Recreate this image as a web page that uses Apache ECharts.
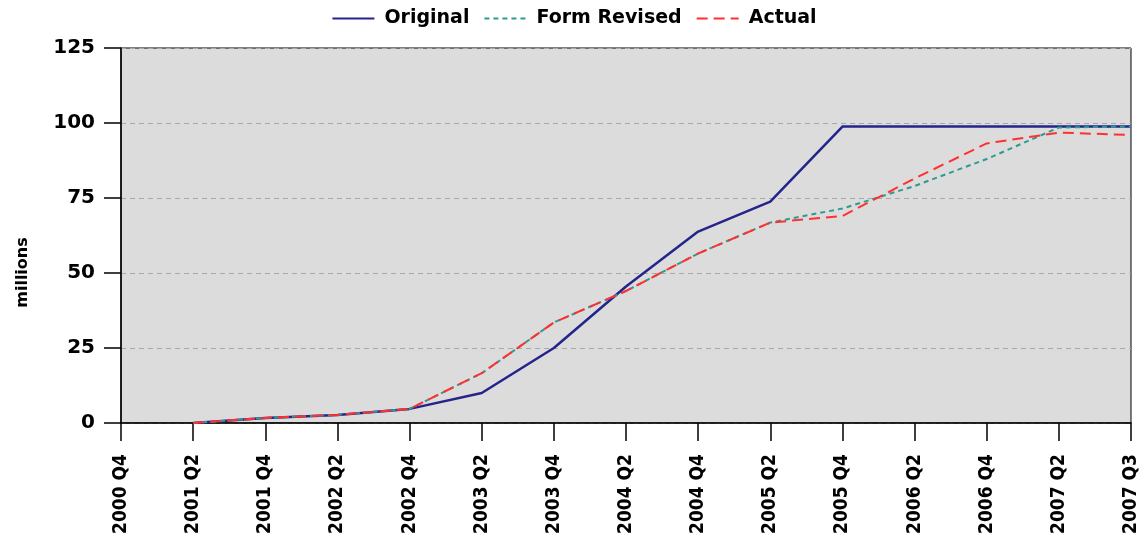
<!doctype html>
<html>

<head>
	<meta charset="utf-8">
	<title></title>
	<script type="text/javascript" src="https://cdn.jsdelivr.net/npm/echarts@6/dist/echarts.min.js"></script>
	<style>
		html, body { margin: 0; padding: 0; background: #fff; }
	</style>
</head>

<body>
	<div id="main" style="width: 1148px;height:548px;"></div>
	<script type="text/javascript">
		var quarters = ['2000 Q4', '2001 Q2', '2001 Q4', '2002 Q2', '2002 Q4', '2003 Q2', '2003 Q4', '2004 Q2',
			'2004 Q4', '2005 Q2', '2005 Q4', '2006 Q2', '2006 Q4', '2007 Q2', '2007 Q3'];
		var original = [null, 0, 1.7, 2.7, 4.7, 10, 25, 45.5, 63.8, 73.8, 98.8, 98.8, 98.8, 98.8, 98.8];
		var formRevised = [null, 0, 1.7, 2.7, 4.7, 16.6, 33.5, 44, 56.5, 66.8, 71.5, 79, 88, 98.5, 98.8];
		var actual = [null, 0, 1.7, 2.7, 4.7, 16.6, 33.5, 44, 56.5, 66.8, 69, 81.5, 93.2, 96.8, 96];

		var myChart = echarts.init(document.getElementById('main'));

		var option = {
			animation: false,
			legend: {
				top: 4,
				left: 'center',
				itemWidth: 42,
				itemHeight: 14,
				itemGap: 14,
				itemStyle: { opacity: 0 },
				textStyle: {
					fontFamily: 'DejaVu Sans',
					fontWeight: 'bold',
					fontSize: 19,
					color: '#000',
					padding: [0, 0, 0, 5]
				},
				data: ['Original', 'Form Revised', 'Actual']
			},
			grid: {
				left: 121,
				right: 17,
				top: 48,
				bottom: 125,
				show: true,
				backgroundColor: '#dcdcdc',
				borderColor: '#000',
				borderWidth: 1
			},
			xAxis: {
				type: 'category',
				boundaryGap: false,
				data: quarters,
				axisLine: { lineStyle: { color: '#000', width: 1.5 } },
				axisTick: { length: 18, lineStyle: { color: '#000', width: 1.5 } },
				axisLabel: {
					rotate: 90,
					margin: 31,
					interval: 0,
					color: '#000',
					fontFamily: 'DejaVu Sans Condensed',
					fontWeight: 'bold',
					fontSize: 19
				},
				splitLine: { show: false }
			},
			yAxis: {
				type: 'value',
				min: 0,
				max: 125,
				interval: 25,
				name: 'millions',
				nameLocation: 'middle',
				nameGap: 90,
				nameTextStyle: {
					fontFamily: 'DejaVu Sans',
					fontWeight: 'bold',
					fontSize: 16,
					color: '#000',
					padding: [0, 74, 0, 0]
				},
				axisLine: { show: true, lineStyle: { color: '#000', width: 1.5 } },
				axisTick: { show: true, length: 17, lineStyle: { color: '#000', width: 1.5 } },
				axisLabel: {
					margin: 26,
					color: '#000',
					fontFamily: 'DejaVu Sans',
					fontWeight: 'bold',
					fontSize: 20
				},
				splitLine: { lineStyle: { color: '#a8a8a8', type: [5, 4], width: 1 } }
			},
			series: [
				{
					name: 'Original',
					type: 'line',
					data: original,
					symbol: 'none',
					lineStyle: { color: '#24248a', width: 2.5 },
					itemStyle: { color: '#24248a' }
				},
				{
					name: 'Form Revised',
					type: 'line',
					data: formRevised,
					symbol: 'none',
					lineStyle: { color: '#2e9a92', width: 2, type: [5, 4] },
					itemStyle: { color: '#2e9a92' }
				},
				{
					name: 'Actual',
					type: 'line',
					data: actual,
					symbol: 'none',
					lineStyle: { color: '#ff3030', width: 2, type: [11, 6] },
					itemStyle: { color: '#ff3030' }
				}
			]
		};

		myChart.setOption(option);
	</script>
</body>

</html>
